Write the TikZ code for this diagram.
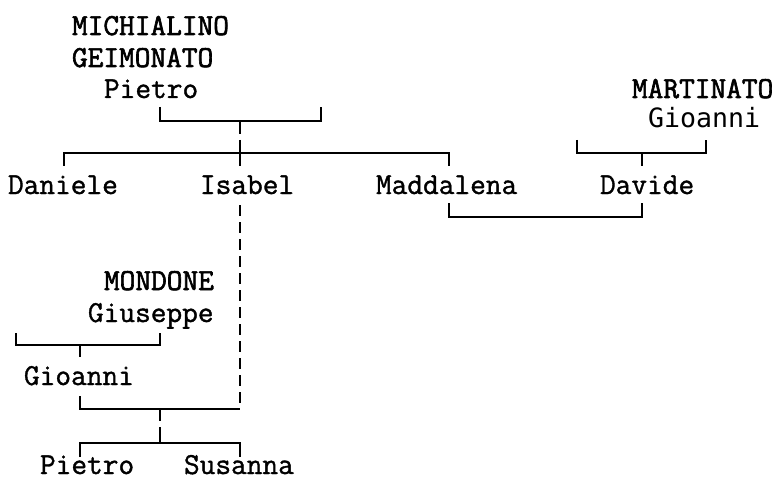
\documentclass[tikz,border=0pt]{standalone}
\usepackage{fontspec}
\newfontfamily\sansmono{DejaVu Sans Mono}
\newfontfamily\lmmono[FakeBold=1.2]{Latin Modern Mono}
\newfontfamily\lmmonoB[FakeBold=2]{Latin Modern Mono}
\begin{document}
\begin{tikzpicture}[x=1pt,y=-1pt,
  pname/.style={anchor=base west,inner sep=0pt,outer sep=0pt,
    font=\lmmono\fontsize{30.48}{36}\selectfont},
  uname/.style={pname,font=\lmmonoB\fontsize{30.48}{36}\selectfont},
  sname/.style={anchor=base west,inner sep=0pt,outer sep=0pt,
    font=\sansmono\fontsize{26.58}{32}\selectfont},
  link/.style={line width=1.5pt,line cap=butt,line join=miter},
  dlink/.style={link,dash pattern=on 11pt off 6pt}]
\useasboundingbox (0,0) rectangle (781,481);
% names
\node[uname] (mich) at (72,35) {MICHIALINO};
\node[uname] (geim) at (72,67) {GEIMONATO};
\node[pname] (pietroA) at (104,98) {Pietro};
\node[uname] (mart) at (632,98) {MARTINATO};
\node[sname] (gioA) at (648,128) {Gioanni};
\node[pname] (dan) at (8,194) {Daniele};
\node[pname] (isa) at (200,194) {Isabel};
\node[pname] (mad) at (376,194) {Maddalena};
\node[pname] (dav) at (600,194) {Davide};
\node[uname] (mond) at (104,290) {MONDONE};
\node[pname] (gius) at (88,322) {Giuseppe};
\node[pname] (gioB) at (24,385) {Gioanni};
\node[pname] (pietroB) at (40,474) {Pietro};
\node[pname] (sus) at (184,474) {Susanna};
% connector points
\coordinate (a1) at (160,107); \coordinate (a2) at (160,121);
\coordinate (a3) at (321,121); \coordinate (a4) at (321,107);
\coordinate (a5) at (240,121); \coordinate (a6) at (240,134);
\coordinate (b1) at (240,140); \coordinate (b2) at (240,166);
\coordinate (b3) at (64,153);  \coordinate (b4) at (449,153);
\coordinate (b5) at (64,166);  \coordinate (b6) at (449,166);
\coordinate (c1) at (577,140); \coordinate (c2) at (577,153);
\coordinate (c3) at (706,153); \coordinate (c4) at (706,140);
\coordinate (c5) at (642,153); \coordinate (c6) at (642,166);
\coordinate (d1) at (449,203); \coordinate (d2) at (449,217);
\coordinate (d3) at (642,217); \coordinate (d4) at (642,203);
\coordinate (e1) at (240,205); \coordinate (e2) at (240,409);
\coordinate (f1) at (16,333);  \coordinate (f2) at (16,345);
\coordinate (f3) at (160,345); \coordinate (f4) at (160,333);
\coordinate (f5) at (80,345);  \coordinate (f6) at (80,357);
\coordinate (g1) at (80,396);  \coordinate (g2) at (80,409);
\coordinate (g3) at (160,409); \coordinate (g4) at (160,421);
\coordinate (h1) at (160,427); \coordinate (h2) at (160,443);
\coordinate (h3) at (80,443);  \coordinate (h4) at (240,443);
\coordinate (h5) at (80,457);  \coordinate (h6) at (240,457);
% connectors
\draw[link] (a1) -- (a2) -- (a3) -- (a4);
\draw[link] (a5) -- (a6);
\draw[link] (b1) -- (b2);
\draw[link] (b5) -- (b3) -- (b4) -- (b6);
\draw[link] (c1) -- (c2) -- (c3) -- (c4);
\draw[link] (c5) -- (c6);
\draw[link] (d1) -- (d2) -- (d3) -- (d4);
\draw[dlink] (e1) -- (e2);
\draw[link] (f1) -- (f2) -- (f3) -- (f4);
\draw[link] (f5) -- (f6);
\draw[link] (g1) -- (g2) -- (e2);
\draw[link] (g3) -- (g4);
\draw[link] (h1) -- (h2);
\draw[link] (h5) -- (h3) -- (h4) -- (h6);
\end{tikzpicture}
\end{document}
